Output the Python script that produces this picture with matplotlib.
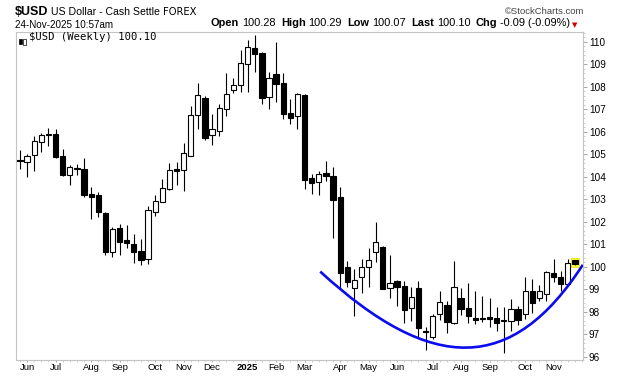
import matplotlib
matplotlib.use("Agg")
import matplotlib.pyplot as plt
from matplotlib.patches import PathPatch, Rectangle
from matplotlib.path import Path
from matplotlib.ticker import FixedLocator, MultipleLocator
import numpy as np
import pandas as pd

plt.rcParams.update({"font.family": ["Liberation Sans", "DejaVu Sans"], "font.size": 7})

# weekly bars, first week starts Monday 2024-05-27
first_week = "2024-05-27"
opens = [104.75, 104.64, 104.95, 105.53, 105.86, 105.88, 104.90, 104.08, 104.39, 104.34,
         103.22, 103.19, 102.39, 100.64, 101.70, 101.19, 100.99, 100.70, 100.36, 102.44,
         102.89, 103.45, 104.32, 104.30, 104.93, 106.73, 107.51, 105.84, 106.02, 107.00,
         107.87, 108.06, 109.00, 109.71, 109.48, 107.53, 108.55, 108.15, 106.82, 106.68,
         107.63, 103.93, 103.75, 104.16, 104.03, 103.10, 99.97, 99.04, 99.56, 99.97,
         100.64, 100.87, 99.04, 99.36, 99.14, 98.18, 99.05, 97.12, 96.89, 97.88,
         98.28, 97.48, 98.60, 98.15, 97.71, 97.70, 97.78, 97.71, 97.60, 97.57,
         98.11, 97.88, 98.91, 98.60, 98.79, 99.70, 99.56, 99.23, 100.28]
highs = [105.20, 105.00, 105.82, 105.94, 106.15, 106.12, 105.23, 104.52, 104.56, 104.83,
         103.54, 103.32, 102.44, 101.75, 101.91, 101.85, 101.45, 101.23, 102.70, 103.19,
         103.90, 104.60, 104.64, 105.48, 107.14, 108.15, 107.57, 106.77, 107.23, 108.60,
         108.37, 109.63, 110.08, 110.30, 109.54, 108.65, 109.99, 108.61, 107.45, 107.73,
         107.65, 104.12, 104.25, 104.70, 104.44, 103.54, 100.25, 99.90, 100.34, 100.82,
         101.97, 100.90, 100.52, 99.40, 99.36, 99.10, 99.36, 97.33, 97.90, 98.91,
         98.49, 100.25, 99.04, 99.26, 98.91, 98.70, 98.60, 98.20, 98.20, 98.56,
         98.25, 99.53, 99.47, 99.19, 99.81, 100.33, 99.81, 100.34, 100.29]
lows = [104.35, 104.00, 104.27, 105.11, 105.38, 104.83, 104.03, 103.64, 104.09, 103.10,
        102.13, 102.22, 100.52, 100.44, 100.52, 100.82, 100.18, 100.07, 100.12, 102.25,
        102.87, 103.41, 103.63, 103.36, 104.90, 106.13, 105.64, 105.41, 105.81, 106.70,
        107.73, 107.78, 107.78, 108.67, 107.24, 107.00, 107.33, 106.58, 106.36, 106.13,
        103.44, 103.22, 103.19, 103.82, 101.26, 99.00, 99.11, 97.82, 98.84, 99.11,
        100.22, 98.99, 98.62, 98.27, 97.51, 97.59, 96.89, 96.30, 96.77, 97.63,
        97.04, 97.45, 97.85, 97.51, 97.45, 97.53, 97.33, 97.16, 96.15, 97.14,
        97.41, 97.66, 97.95, 98.49, 98.47, 99.31, 98.92, 99.19, 100.07]
closes = [104.68, 104.92, 105.57, 105.85, 105.89, 104.88, 104.08, 104.42, 104.33, 103.19,
          103.11, 102.44, 100.67, 101.66, 101.11, 101.07, 100.67, 100.30, 102.50, 102.90,
          103.48, 104.28, 104.26, 105.04, 106.73, 107.62, 105.73, 106.11, 107.04, 107.66,
          108.06, 109.04, 109.75, 109.44, 107.48, 108.40, 108.10, 106.77, 106.62, 107.66,
          103.84, 103.71, 104.10, 104.04, 102.98, 99.70, 99.31, 99.42, 99.97, 100.30,
          101.08, 99.02, 99.26, 99.11, 98.09, 98.65, 97.29, 97.08, 97.81, 98.42,
          97.56, 99.08, 98.11, 97.81, 97.64, 97.66, 97.69, 97.48, 97.62, 98.11,
          97.64, 98.91, 98.37, 98.92, 99.75, 99.56, 99.23, 100.15, 100.10]
y_ticks = [96, 97, 98, 99, 100, 101, 102, 103, 104, 105, 106, 107, 108, 109, 110]

# quote line of the header
quote_labels = ["Open", "High", "Low", "Last", "Chg"]
quote_values = ["100.28", "100.29", "100.07", "100.10", "-0.09 (-0.09%)"]

# hand-drawn rounding-bottom arc (bezier anchors, in week index / price)
arc_x = [42.2, 58.0, 69.2, 79.1]
arc_y = [99.78, 95.2, 95.25, 100.08]

dates = pd.date_range(first_week, periods=len(closes), freq="W-MON")
x = np.arange(len(closes))
o, h, l, c = map(np.array, (opens, highs, lows, closes))

W, H = 620, 376
fig = plt.figure(figsize=(W / 100, H / 100), dpi=100)
ax = fig.add_axes([16 / W, 1 - 360 / H, 567 / W, 328.3 / H])

up = c >= o
ax.vlines(x, l, h, color="black", lw=0.8, zorder=2)
body = np.maximum(np.abs(c - o), 0.04)
ax.bar(x[up], body[up], bottom=np.minimum(o, c)[up], width=0.74,
       facecolor="white", edgecolor="black", lw=0.8, zorder=3)
ax.bar(x[~up], body[~up], bottom=np.minimum(o, c)[~up], width=0.74,
       facecolor="black", edgecolor="black", lw=0.8, zorder=3)

# last bar highlight
ax.add_patch(Rectangle((x[-1] - 0.5, l[-1] - 0.1), 1.0, h[-1] - l[-1] + 0.2,
                       facecolor="#ffff40", edgecolor="#e8e800", lw=0.6, zorder=1))

arc = Path(list(zip(arc_x, arc_y)), [Path.MOVETO, Path.CURVE4, Path.CURVE4, Path.CURVE4])
ax.add_patch(PathPatch(arc, facecolor="none", edgecolor="#0b0bf0", lw=1.9, zorder=4))

ax.set_xlim(-0.56, 79.13)
ax.set_ylim(95.85, 110.44)

# month ticks at first weekly bar of each month
month_idx = [i for i in range(1, len(dates)) if dates[i].month != dates[i - 1].month]
month_lab = [str(dates[i].year) if dates[i].month == 1 else dates[i].strftime("%b") for i in month_idx]
ax.xaxis.set_major_locator(FixedLocator(month_idx))
ax.set_xticklabels(month_lab)
for t, lab in zip(ax.get_xticklabels(), month_lab):
    if lab.isdigit():
        t.set_fontweight("bold")
ax.xaxis.set_minor_locator(MultipleLocator(1))

ax.yaxis.tick_right()
ax.set_yticks(y_ticks)
ax.yaxis.set_minor_locator(MultipleLocator(0.2))
ax.tick_params(axis="y", which="major", length=3, width=0.6, color="#999999", labelsize=7.2, pad=1.2)
ax.tick_params(axis="x", which="major", length=1.5, width=0.6, color="#999999", labelsize=6.8, pad=0.5)
ax.tick_params(axis="both", which="minor", length=1.5, width=0.5, color="#bbbbbb")
for s in ax.spines.values():
    s.set_color("#c4c4c4")
    s.set_linewidth(0.8)

# legend line inside plot, with a small candle icon
ax.add_patch(Rectangle((0.005, 0.963), 0.005, 0.014, transform=ax.transAxes,
                       facecolor="black", edgecolor="black", lw=0.5, clip_on=False))
ax.add_patch(Rectangle((0.013, 0.958), 0.005, 0.02, transform=ax.transAxes,
                       facecolor="white", edgecolor="black", lw=0.5, clip_on=False))
ax.text(29 / W, 1 - 37 / H, "$USD (Weekly) 100.10", transform=fig.transFigure, ha="left",
        va="center", fontsize=7.6, family="DejaVu Sans Mono")

# header, aligned with the chart frame
fig.text(15 / W, 1 - 15 / H, "$USD", fontsize=9, fontweight="bold", ha="left", va="baseline")
fig.text(51 / W, 1 - 15 / H, "US Dollar - Cash Settle", fontsize=7.6, ha="left", va="baseline")
fig.text(163 / W, 1 - 15 / H, "FOREX", fontsize=7.2, ha="left", va="baseline", family="DejaVu Sans")
fig.text(584 / W, 1 - 14 / H, "\u00a9StockCharts.com", fontsize=6.8, ha="right", va="baseline", color="#444444")
fig.text(15 / W, 1 - 27.5 / H, "24-Nov-2025 10:57am", fontsize=7.1, ha="left", va="baseline")

# quote line is laid out right to left from the red arrow
prev = fig.text(577 / W, 1 - 27.5 / H, "\u25bc", fontsize=5, color="#cc0000",
                family="DejaVu Sans", ha="right", va="baseline")
for lab, val in reversed(list(zip(quote_labels, quote_values))):
    prev = ax.annotate(val, xy=(0, 0), xycoords=prev, xytext=(-0.8, 0), textcoords="offset points",
                       ha="right", va="bottom", fontsize=7.9, annotation_clip=False)
    prev = ax.annotate(lab, xy=(0, 0), xycoords=prev, xytext=(-2, 0), textcoords="offset points",
                       ha="right", va="bottom", fontsize=7.9, fontweight="bold", annotation_clip=False)
    if lab != quote_labels[0]:
        prev = ax.annotate(" ", xy=(0, 0), xycoords=prev, xytext=(-1, 0), textcoords="offset points",
                           ha="right", va="bottom", fontsize=7.9, annotation_clip=False)

fig.savefig("out.png", dpi=100)
